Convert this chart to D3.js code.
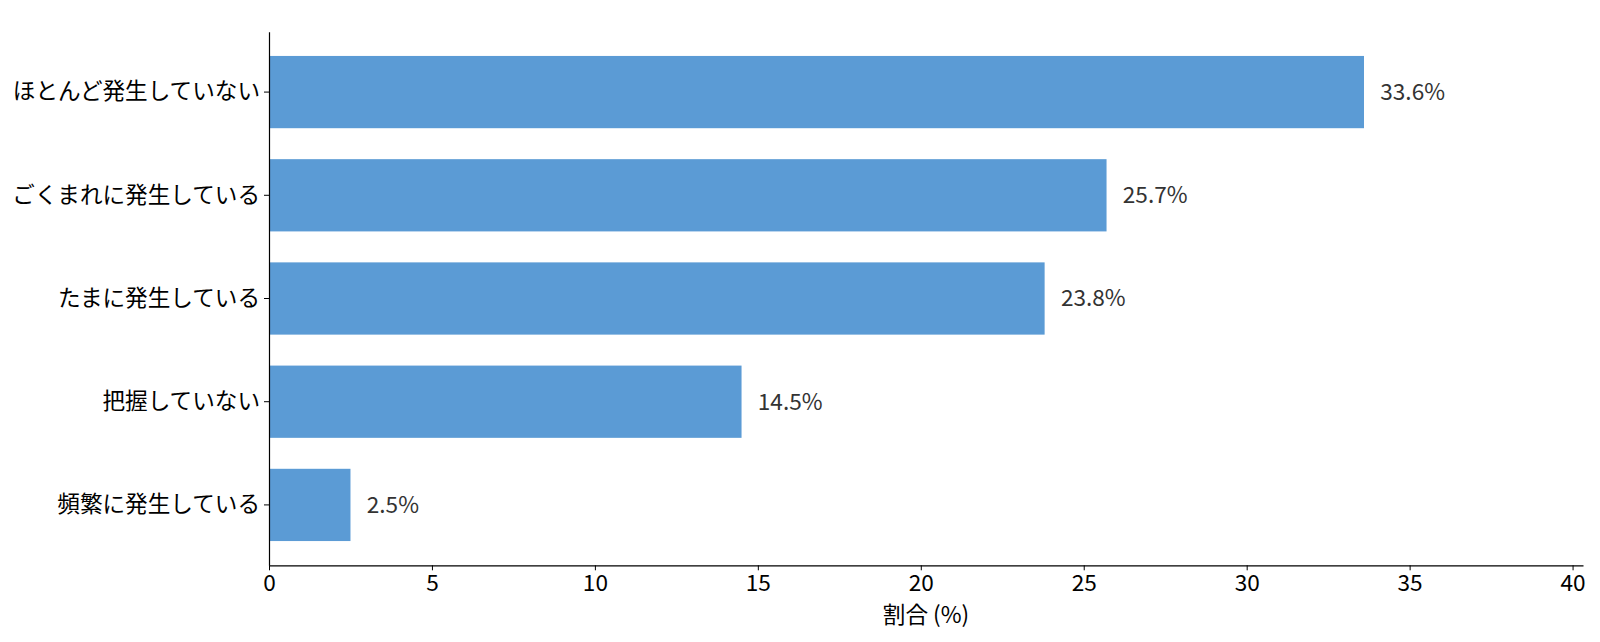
<!DOCTYPE html>
<html><head><meta charset="utf-8">
<script src="https://cdn.jsdelivr.net/npm/d3@7"></script>
<style>body{margin:0;background:#fff;}svg{display:block;}</style>
</head><body>
<svg id="c" width="1600" height="642"></svg>
<script>
const categories = ["頻繁に発生している","把握していない","たまに発生している","ごくまれに発生している","ほとんど発生していない"];
const values = [2.5, 14.5, 23.8, 25.7, 33.6];
const xTicks = [0,5,10,15,20,25,30,35,40];
const xLabel = "割合 (%)";

const font = "'Noto Sans CJK JP','Noto Sans',sans-serif";
const fs = "22.6px";
const svg = d3.select("#c");
const L = 269, R = 1583, T = 31.7, B = 565.3;

const x = d3.scaleLinear().domain([0, d3.max(values)*1.2]).range([L, R]);
const y = d3.scaleBand().domain(categories).range([B, T]).paddingInner(0.3).paddingOuter(0.235);

svg.append("g").selectAll("rect").data(values).join("rect")
  .attr("x", x(0)).attr("y", (d,i)=>y(categories[i]))
  .attr("width", d=>x(d)-x(0)).attr("height", y.bandwidth())
  .attr("fill", "#5B9BD5");

svg.append("g").selectAll("text").data(values).join("text")
  .attr("x", d=>x(d+0.5)).attr("y", (d,i)=>y(categories[i])+y.bandwidth()/2)
  .attr("dy","0.35em").attr("fill","#333")
  .style("font-family",font).style("font-size",fs)
  .text(d=>d.toFixed(1)+"%");

const xa = svg.append("g").attr("transform",`translate(0,${B})`)
  .call(d3.axisBottom(x).tickValues(xTicks).tickSize(5).tickPadding(5).tickSizeOuter(0));
xa.select(".domain").attr("stroke","#000").attr("stroke-width",1.2);
xa.selectAll(".tick line").attr("stroke","#000");
xa.selectAll("text").style("font-family",font).style("font-size",fs).attr("fill","#000");

const ya = svg.append("g").attr("transform",`translate(${L},0)`)
  .call(d3.axisLeft(y).tickSize(5).tickPadding(4).tickSizeOuter(0));
ya.select(".domain").attr("stroke","#000").attr("stroke-width",1.2);
ya.selectAll(".tick line").attr("stroke","#000");
ya.selectAll("text").style("font-family",font).style("font-size",fs).attr("fill","#000");

svg.append("text").attr("x",(L+R)/2).attr("y",615).attr("dy","0.35em")
  .attr("text-anchor","middle").style("font-family",font).style("font-size",fs)
  .attr("fill","#000").text(xLabel);
</script>
</body></html>
